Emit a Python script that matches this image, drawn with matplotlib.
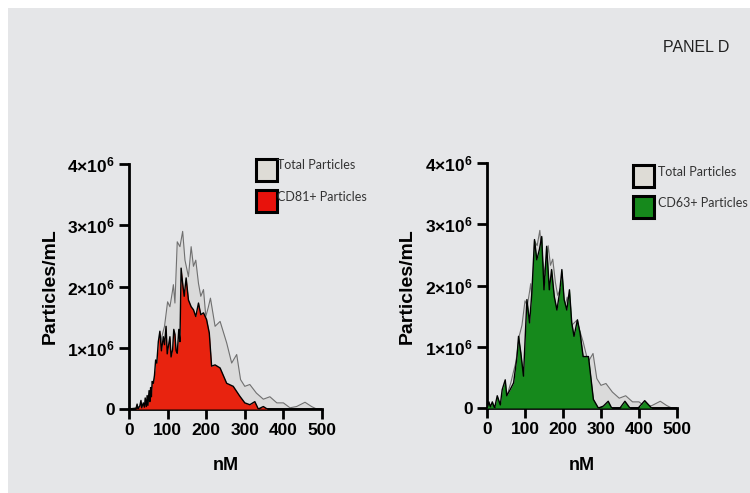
import matplotlib
matplotlib.use("Agg")
import matplotlib.pyplot as plt
from matplotlib.patches import Rectangle
import numpy as np

plt.rcParams['font.family'] = ['Liberation Sans', 'DejaVu Sans']
plt.rcParams['mathtext.fontset'] = 'custom'
plt.rcParams['mathtext.rm'] = 'Liberation Sans:bold'
plt.rcParams['mathtext.bf'] = 'Liberation Sans:bold'
plt.rcParams['mathtext.it'] = 'Liberation Sans:bold'

# ---------------- data ----------------
total_x = [0, 15, 28, 40, 46, 55, 63, 70, 76, 85, 92, 100, 106, 112, 115, 119, 125, 132, 139, 145,
           154, 161, 167, 173, 180, 186, 193, 199, 205, 211, 223, 236, 253, 266, 279, 289, 300,
           313, 330, 348, 365, 383, 400, 417, 434, 456, 473, 486, 500]
total_y = [0, 0.02, 0.04, 0.08, 0.1, 0.25, 0.42, 0.6, 0.75, 1.18, 1.35, 1.75, 1.67, 1.9, 2.03, 1.73,
           2.73, 2.65, 2.9, 2.43, 2.16, 2.65, 2.33, 2.43, 2.05, 1.84, 1.95, 1.51, 1.65, 1.81, 1.35,
           1.43, 1.08, 0.75, 0.89, 0.48, 0.37, 0.4, 0.26, 0.16, 0.2, 0.1, 0.1, 0.02, 0.04, 0.11,
           0.04, 0, 0]

cd81_x = [0, 18, 21, 23, 28, 31, 33, 37, 40, 42, 45, 47, 49, 52, 54, 56, 58, 60, 63, 66, 69, 72,
          76, 80, 84, 89, 92, 96, 99, 102, 106, 109, 113, 116, 119, 122, 125, 129, 132, 135, 139,
          143, 148, 154, 161, 167, 173, 180, 186, 193, 201, 208, 214, 223, 236, 253, 270, 287, 300,
          313, 326, 335, 348, 358, 500]
cd81_y = [0, 0, 0.08, 0, 0.05, 0.14, 0.02, 0.1, 0.03, 0.18, 0.04, 0.22, 0.06, 0.3, 0.12, 0.35,
          0.2, 0.45, 0.42, 0.55, 0.8, 0.75, 1.1, 1.27, 0.95, 1.18, 1.05, 1.35, 0.9, 1.02, 1.18, 0.85,
          0.97, 1.3, 1.22, 0.95, 0.91, 1.3, 1.1, 2.3, 2.05, 1.84, 2.14, 1.78, 1.67, 1.62, 1.51,
          1.73, 1.54, 1.57, 1.46, 1.24, 0.7, 0.72, 0.67, 0.42, 0.37, 0.21, 0.1, 0.07, 0.12, 0,
          0.04, 0, 0]

cd63_x = [0, 5, 9, 14, 20, 27, 35, 40, 48, 52, 61, 70, 79, 83, 89, 96, 105, 112, 118, 125, 131,
          138, 144, 150, 157, 164, 170, 177, 184, 191, 197, 203, 210, 217, 223, 229, 238, 245, 253,
          267, 280, 293, 306, 319, 328, 350, 363, 376, 398, 415, 433, 500]
cd63_y = [0, 0.1, 0.02, 0.1, 0, 0.2, 0.05, 0.3, 0.46, 0.2, 0.3, 0.41, 0.84, 1.17, 0.9, 0.52, 1.77,
          1.39, 1.88, 2.75, 2.42, 2.59, 2.8, 1.93, 2.64, 1.93, 2.26, 1.82, 1.6, 1.88, 2.26, 1.77,
          1.6, 1.93, 1.39, 1.17, 1.44, 1.22, 0.84, 0.84, 0.14, 0, 0.03, 0.11, 0, 0, 0.11, 0, 0,
          0.12, 0, 0]

x_ticks = [0, 100, 200, 300, 400, 500]
y_ticks = [0, 1e6, 2e6, 3e6, 4e6]
y_tick_labels = ['0', r'$1{\times}10^{6}$', r'$2{\times}10^{6}$', r'$3{\times}10^{6}$', r'$4{\times}10^{6}$']
legend_labels_left = ['Total Particles', 'CD81+ Particles']
legend_labels_right = ['Total Particles', 'CD63+ Particles']
scale = 1e6

W, H = 750, 493
BG = '#e5e6e8'
fig = plt.figure(figsize=(7.5, 4.93), dpi=100, facecolor=BG)
# white margin strips on top and left
fig.add_artist(Rectangle((0, 1 - 8 / H), 1, 8 / H, transform=fig.transFigure,
                         facecolor='white', edgecolor='none', zorder=-10))
fig.add_artist(Rectangle((0, 0), 8 / W, 1, transform=fig.transFigure,
                         facecolor='white', edgecolor='none', zorder=-10))

def px(x, y):
    return x / W, 1 - y / H

def make_axes(left_px, right_px, top_px, bottom_px):
    l, b = left_px / W, 1 - bottom_px / H
    w = (right_px - left_px) / W
    h = (bottom_px - top_px) / H
    ax = fig.add_axes([l, b, w, h])
    ax.set_facecolor('none')
    return ax

def style(ax):
    ax.set_xlim(0, 500)
    ax.set_ylim(0, 4e6)
    for s in ['top', 'right']:
        ax.spines[s].set_visible(False)
    for s in ['left', 'bottom']:
        ax.spines[s].set_linewidth(2)
    ax.set_xticks(x_ticks)
    ax.set_xticklabels([str(t) for t in x_ticks])
    ax.set_yticks(y_ticks)
    ax.set_yticklabels(y_tick_labels)
    ax.tick_params(axis='both', which='major', length=7, width=2, direction='out',
                   labelsize=12.5, pad=3)
    for lab in ax.get_xticklabels() + ax.get_yticklabels():
        lab.set_fontweight('bold')

def draw_panel(ax, sub_x, sub_y, color):
    ty = np.array(total_y) * scale
    ax.fill_between(total_x, ty, 0, color='#dadada', lw=0, zorder=1)
    ax.plot(total_x, ty, color='#707070', lw=0.8, zorder=2)
    sy = np.array(sub_y) * scale
    ax.fill_between(sub_x, sy, 0, color=color, lw=0, zorder=3)
    ax.plot(sub_x, sy, color='black', lw=1.0, zorder=4)
    style(ax)

def legend(x_box, y_boxes, x_text, y_texts, labels, colors):
    for yb, c in zip(y_boxes, colors):
        x0, y1 = px(x_box, yb + 22)
        fig.add_artist(Rectangle((x0, y1), 21 / W, 22 / H, transform=fig.transFigure,
                                 facecolor=c, edgecolor='black', lw=2.2))
    for yt, lab in zip(y_texts, labels):
        fx, fy = px(x_text, yt)
        fig.text(fx, fy, lab, fontsize=9, family=['Lato', 'DejaVu Sans'],
                 color='#333333', ha='left', va='center')

# left panel
ax1 = make_axes(129, 322, 164, 409)
draw_panel(ax1, cd81_x, cd81_y, '#e8230f')
legend(256, [159, 190], 277, [165, 197], legend_labels_left, ['#dedcd6', '#e8120c'])

# right panel
ax2 = make_axes(487, 677, 163, 408)
draw_panel(ax2, cd63_x, cd63_y, '#16891c')
legend(633, [165, 196], 658, [172, 203], legend_labels_right, ['#dedcd6', '#16891c'])

# axis labels
for cx in [50, 407]:
    fx, fy = px(cx, 286)
    fig.text(fx, fy, 'Particles/mL', rotation=90, fontsize=14, fontweight='bold',
             ha='center', va='center')
for cx in [226, 582]:
    fx, fy = px(cx, 465)
    fig.text(fx, fy, 'nM', fontsize=13, fontweight='bold', ha='center', va='center')

fx, fy = px(696, 47)
fig.text(fx, fy, 'PANEL D', fontsize=11.5, color='#222222', ha='center', va='center')

fig.savefig('out.png', dpi=100, facecolor=BG)
